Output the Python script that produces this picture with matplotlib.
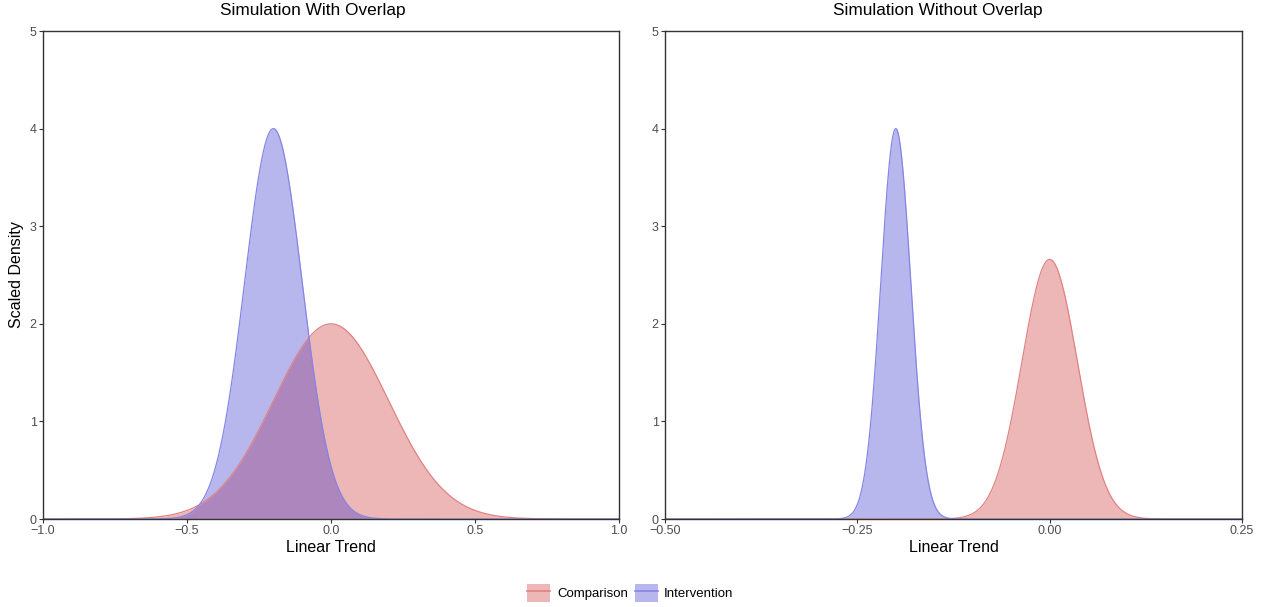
import numpy as np
import matplotlib
matplotlib.use("Agg")
import matplotlib.pyplot as plt
from matplotlib.patches import Patch
from matplotlib.lines import Line2D

plt.rcParams['font.family'] = ['Liberation Sans', 'DejaVu Sans']

# ---- data: centre, spread, peak height of each scaled density ----
groups = ["Comparison", "Intervention"]
overlap_centre = [0.0, -0.2]
overlap_sd = [0.2, 0.1]
overlap_peak = [2.0, 4.0]
nooverlap_centre = [0.0, -0.2]
nooverlap_sd = [0.036, 0.0195]
nooverlap_peak = [2.66, 4.0]

titles = ["Simulation With Overlap", "Simulation Without Overlap"]
xlims = [(-1.0, 1.0), (-0.5, 0.25)]
xticks = [[-1.0, -0.5, 0.0, 0.5, 1.0], [-0.5, -0.25, 0.0, 0.25]]
xticklabels = [["\u22121.0", "\u22120.5", "0.0", "0.5", "1.0"],
               ["\u22120.50", "\u22120.25", "0.00", "0.25"]]
yticks = [0, 1, 2, 3, 4, 5]

ALPHA = 0.32
fill_cols = {"Comparison": "#CD2121", "Intervention": "#2121CA"}
line_cols = {"Comparison": "#E08282", "Intervention": "#8585E4"}

fig = plt.figure(figsize=(12.61, 6.07), dpi=100)
ax1 = fig.add_axes([43/1261, 1-519/607, (619-43)/1261, (519-31)/607])
ax2 = fig.add_axes([665/1261, 1-519/607, (1242-665)/1261, (519-31)/607])

params = [(overlap_centre, overlap_sd, overlap_peak),
          (nooverlap_centre, nooverlap_sd, nooverlap_peak)]
title_x = [313/1261, 938/1261]

for i, ax in enumerate([ax1, ax2]):
    c, s, p = params[i]
    x = np.linspace(xlims[i][0], xlims[i][1], 2000)
    for g, mu, sd, pk in zip(groups, c, s, p):
        y = pk * np.exp(-0.5 * ((x - mu) / sd) ** 2)
        ax.fill_between(x, 0, y, color=fill_cols[g], alpha=ALPHA, linewidth=0)
        ax.plot(x, y, color=line_cols[g], lw=0.9)
    ax.set_xlim(*xlims[i])
    ax.set_ylim(0, 5)
    ax.set_xticks(xticks[i])
    ax.set_xticklabels(xticklabels[i])
    ax.set_yticks(yticks)
    ax.tick_params(axis='both', direction='out', length=3, width=0.8,
                   color='#333333', labelcolor='#4D4D4D', labelsize=9, pad=1.5)
    for sp in ax.spines.values():
        sp.set_color('#333333')
        sp.set_linewidth(1.0)
    fig.text(title_x[i], 1-11/607, titles[i], fontsize=12.4, color='black',
             ha='center', va='center')
    ax.set_xlabel("Linear Trend", fontsize=11.5, labelpad=2)

ax1.set_ylabel("Scaled Density", fontsize=11.5, labelpad=4)

handles = [(Patch(facecolor=fill_cols[g], alpha=ALPHA, edgecolor='none'),
            Line2D([], [], color=line_cols[g], lw=1.2)) for g in groups]
fig.legend(handles, groups, loc='center', bbox_to_anchor=(0.5, 1-593/607),
           ncol=2, frameon=False, fontsize=9.5, handlelength=1.75, handleheight=1.75,
           handletextpad=0.5, columnspacing=0.5)

fig.savefig("out.png", dpi=100)
